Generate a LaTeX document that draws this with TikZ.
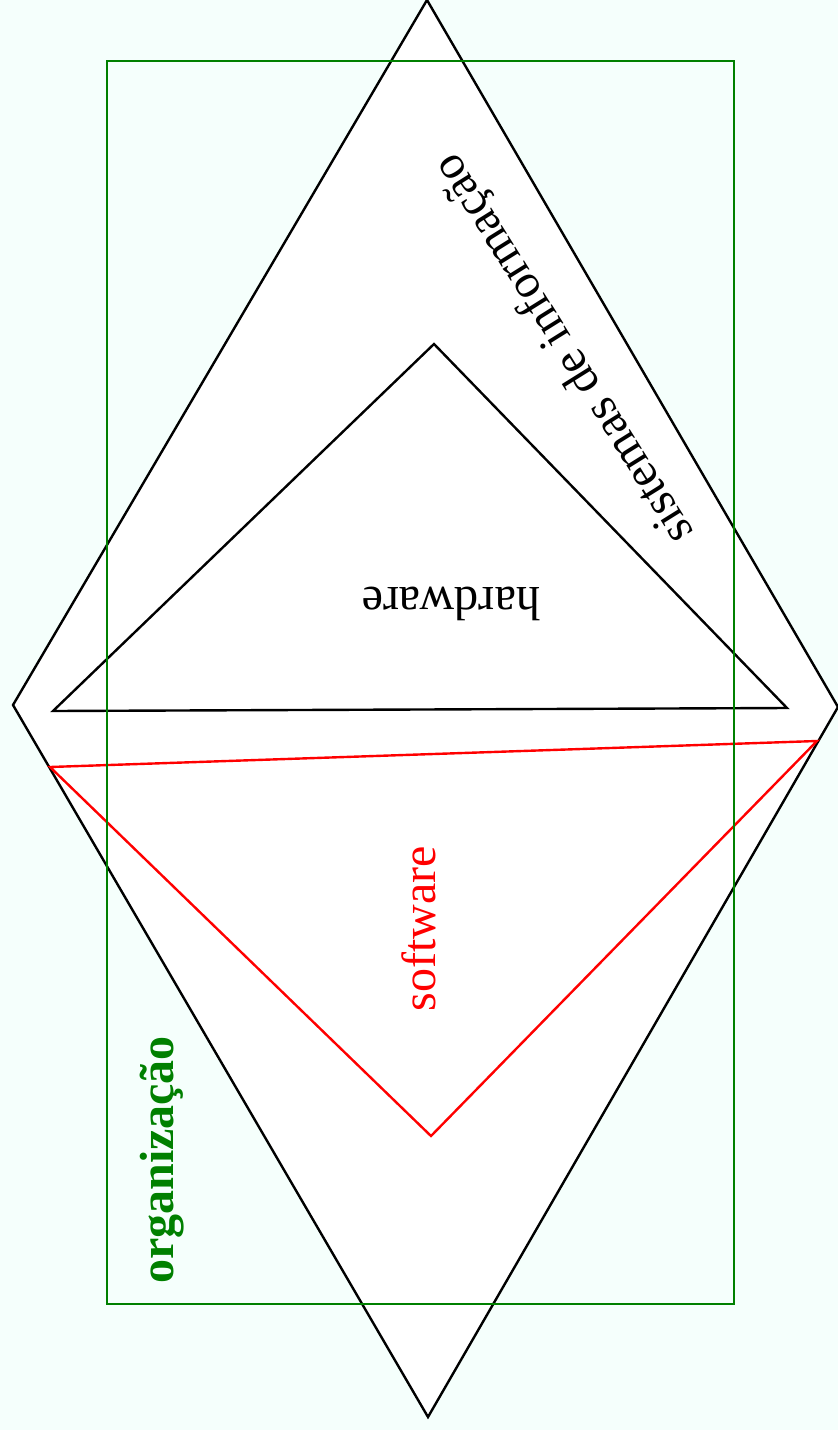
\documentclass[tikz,border=0pt]{standalone}
\usepackage{fontspec}
\setmainfont{Liberation Serif}
\usepackage{xcolor}
\usetikzlibrary{positioning}
\definecolor{mint}{HTML}{F5FFFC}
\definecolor{orggreen}{HTML}{008000}
\begin{document}
\begin{tikzpicture}[
    x=0.5pt,y=-0.5pt,
    outline/.style={line width=1.2pt,line join=miter},
    label/.style={inner sep=0pt,font=\fontsize{24}{28}\selectfont}
  ]
    \fill[mint] (0,0) rectangle (838,1430);
    \useasboundingbox (0,0) rectangle (838,1430);

    % sistemas de informacao
    \coordinate (top)   at (427,0);
    \coordinate (left)  at (13,705);
    \coordinate (right) at (838,707);
    \coordinate (bot)   at (428,1417);
    \filldraw[outline,fill=white] (top) -- (right) -- (bot) -- (left) -- cycle;

    % hardware
    \coordinate (hw1) at (434,344);
    \coordinate (hw2) at (787,708);
    \coordinate (hw3) at (53,711);
    \draw[outline] (hw1) -- (hw2) -- (hw3) -- cycle;

    % software
    \coordinate (sw1) at (50,767);
    \coordinate (sw2) at (817,741);
    \coordinate (sw3) at (431,1136);
    \draw[outline,red] (sw1) -- (sw2) -- (sw3) -- cycle;

    % organizacao
    \draw[outline,orggreen] (107,61) rectangle (734,1304);

    \node[label,rotate=122] (si)  at (565,348) {sistemas de informação};
    \node[label,rotate=180] (hw)  at (451,604) {hardware};
    \node[label,rotate=90,red] (sw) at (419,929) {software};
    \node[label,rotate=90,orggreen,font=\fontsize{24}{28}\selectfont\bfseries] (org) at (162,1160) {organização};
  \end{tikzpicture}
\end{document}
